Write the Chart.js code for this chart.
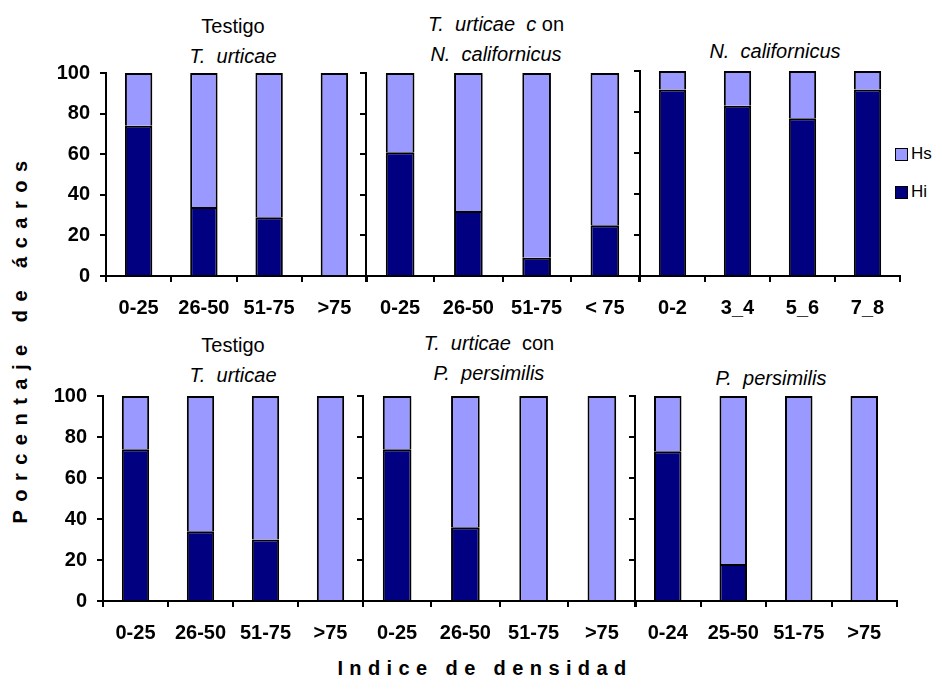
<!DOCTYPE html>
<html>
<head>
<meta charset="utf-8">
<script src="https://cdn.jsdelivr.net/npm/chart.js@4.4.1/dist/chart.umd.min.js"></script>
<style>
  html, body { margin: 0; padding: 0; background: #fff; }
  #wrap { position: relative; width: 942px; height: 689px; overflow: hidden;
          font-family: "Liberation Sans", Arial, sans-serif; color: #000; }
  .panel { position: absolute; }
  .ttl { position: absolute; font-size: 20px; line-height: 30px; white-space: pre;
         text-align: center; transform: translateX(-50%); }
  .ttl i { font-style: italic; }
  .axt { position: absolute; font-weight: bold; font-size: 20px; white-space: pre; }
  #ytitle { left: 20px; top: 338px; transform: translate(-50%, -50%) rotate(-90deg);
            letter-spacing: 8.5px; }
  #xtitle { left: 485px; top: 668px; transform: translate(-50%, -50%); letter-spacing: 6.4px; }
  #legend { position: absolute; left: 895px; top: 140px; font-size: 17px; }
  #legend .row { display: flex; align-items: center; height: 28px; margin-bottom: 10px; }
  #legend .sw { width: 11px; height: 11px; border: 1.5px solid #000; margin-right: 3px; }
</style>
</head>
<body>
<div id="wrap">
  <div class="ttl" style="left:233px; top:11px;">Testigo
<i>T.  urticae</i></div>
  <div class="ttl" style="left:496px; top:9px;"><i>T.  urticae  c</i> on
<i>N.  californicus</i></div>
  <div class="ttl" style="left:775px; top:36px;"><i>N.  californicus</i></div>
  <div class="ttl" style="left:233px; top:330px;">Testigo
<i>T.  urticae</i></div>
  <div class="ttl" style="left:489px; top:328px;"><i>T.  urticae</i>  con
<i>P.  persimilis</i></div>
  <div class="ttl" style="left:771px; top:363px;"><i>P.  persimilis</i></div>
  <div class="axt" id="ytitle">Porcentaje de ácaros</div>
  <div class="axt" id="xtitle">Indice de densidad</div>
  <div id="legend"></div>
</div>
<script>
// Density classes on the x axis of each panel
const catsTestigoNc = ['0-25', '26-50', '51-75', '>75'];
const catsTuNc      = ['0-25', '26-50', '51-75', '< 75'];
const catsNc        = ['0-2', '3_4', '5_6', '7_8'];
const catsTestigoPp = ['0-25', '26-50', '51-75', '>75'];
const catsTuPp      = ['0-25', '26-50', '51-75', '>75'];
const catsPp        = ['0-24', '25-50', '51-75', '>75'];

// Percentage of mites, Hi (bottom) and Hs (top) for each panel
const hiTestigoNc = [74, 34, 29, 0];
const hsTestigoNc = [26, 66, 71, 100];
const hiTuNc      = [61, 32, 9, 25];
const hsTuNc      = [39, 68, 91, 75];
const hiNc        = [91, 83, 77, 91];
const hsNc        = [9, 17, 23, 9];
const hiTestigoPp = [74, 34, 30, 0];
const hsTestigoPp = [26, 66, 70, 100];
const hiTuPp      = [74, 36, 0, 0];
const hsTuPp      = [26, 64, 100, 100];
const hiPp        = [73, 18, 0, 0];
const hsPp        = [27, 82, 100, 100];

const yTicks = [0, 20, 40, 60, 80, 100];
const seriesNames = ['Hi', 'Hs'];
const seriesColors = ['#000080', '#9999FF'];

const FONT = '"Liberation Sans", Arial, sans-serif';
const PT = 14, PR = 4, XH = 52;

function makePanel(area, cats, hi, hs, withLabels) {
  const AX = withLabels ? 64 : 8;
  const left = area.left - AX, top = area.top - PT;
  const width = area.right - area.left + AX + PR;
  const height = area.bottom - area.top + PT + XH;
  const box = document.createElement('div');
  box.className = 'panel';
  box.style.left = left + 'px';
  box.style.top = top + 'px';
  box.style.width = width + 'px';
  box.style.height = height + 'px';
  const cv = document.createElement('canvas');
  cv.width = width; cv.height = height;
  box.appendChild(cv);
  document.getElementById('wrap').appendChild(box);

  const ds = [hi, hs].map((vals, i) => ({
    label: seriesNames[i],
    data: vals,
    backgroundColor: seriesColors[i],
    borderColor: '#000',
    borderWidth: 2,
    borderSkipped: 'start',
    barPercentage: 0.42,
    categoryPercentage: 1.0
  }));

  return new Chart(cv, {
    type: 'bar',
    data: { labels: cats, datasets: ds },
    options: {
      responsive: false,
      animation: false,
      devicePixelRatio: 1,
      layout: { padding: { left: 0, top: PT, right: PR, bottom: 0 } },
      plugins: { legend: { display: false }, tooltip: { enabled: false } },
      scales: {
        x: {
          stacked: true,
          offset: true,
          border: { display: true, color: '#000', width: 2 },
          grid: { offset: true, drawOnChartArea: false, drawTicks: true, tickLength: 6,
                  color: '#000', lineWidth: 2 },
          ticks: { color: '#000', padding: 14, maxRotation: 0, autoSkip: false,
                   font: { family: FONT, size: 20, weight: 'bold' } },
          afterFit: s => { s.height = XH; s.paddingLeft = 0; s.paddingRight = 0; }
        },
        y: {
          stacked: true,
          min: 0, max: 100,
          afterBuildTicks: s => { s.ticks = yTicks.map(v => ({ value: v })); },
          border: { display: true, color: '#000', width: 2 },
          grid: { drawOnChartArea: false, drawTicks: true, tickLength: 6,
                  color: '#000', lineWidth: 2 },
          ticks: { display: withLabels, color: '#000', padding: 10,
                   font: { family: FONT, size: 20, weight: 'bold' } },
          afterFit: s => { s.width = AX; s.paddingTop = 0; s.paddingBottom = 0; }
        }
      }
    }
  });
}

makePanel({ left: 106, right: 367, top: 73, bottom: 276 }, catsTestigoNc, hiTestigoNc, hsTestigoNc, true);
makePanel({ left: 366, right: 639, top: 73, bottom: 276 }, catsTuNc, hiTuNc, hsTuNc, false);
makePanel({ left: 640, right: 900, top: 71, bottom: 276 }, catsNc, hiNc, hsNc, false);
makePanel({ left: 103, right: 363, top: 396, bottom: 601 }, catsTestigoPp, hiTestigoPp, hsTestigoPp, true);
makePanel({ left: 363, right: 636, top: 396, bottom: 601 }, catsTuPp, hiTuPp, hsTuPp, false);
makePanel({ left: 635, right: 897, top: 396, bottom: 601 }, catsPp, hiPp, hsPp, false);

// Legend: Hs listed above Hi, as stacked
const lg = document.getElementById('legend');
[1, 0].forEach(i => {
  const row = document.createElement('div');
  row.className = 'row';
  const sw = document.createElement('div');
  sw.className = 'sw';
  sw.style.background = seriesColors[i];
  const tx = document.createElement('span');
  tx.textContent = seriesNames[i];
  row.appendChild(sw); row.appendChild(tx);
  lg.appendChild(row);
});
</script>
</body>
</html>
